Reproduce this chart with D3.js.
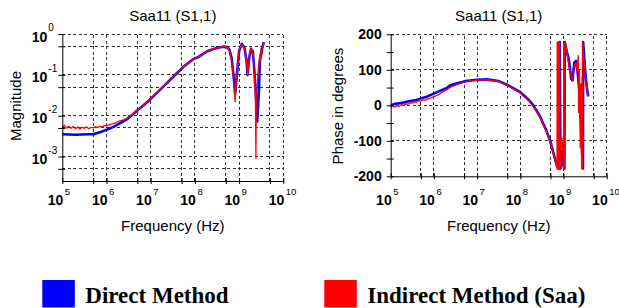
<!DOCTYPE html>
<html>
<head>
<meta charset="utf-8">
<script src="https://cdn.jsdelivr.net/npm/d3@7"></script>
<style>
  body { margin: 0; background: #fff; }
  svg { display: block; }
  text { font-family: "Liberation Sans", Arial, sans-serif; fill: #000; }
</style>
</head>
<body>
<svg id="chart" width="619" height="308"></svg>
<script>
// ---- data ----
// magnitude, direct method (blue)
const magDirectF = [1.00e5, 2.00e5, 3.98e5, 5.01e5, 7.08e5, 1.00e6, 1.58e6, 2.88e6, 5.13e6, 9.33e6,
  1.62e7, 3.16e7, 5.50e7, 9.12e7, 1.26e8, 1.86e8, 2.63e8, 3.55e8, 4.37e8, 5.25e8,
  6.03e8, 6.76e8, 7.59e8, 8.13e8, 8.91e8, 1.00e9, 1.15e9, 1.32e9, 1.48e9, 1.55e9,
  1.70e9, 1.86e9, 2.04e9, 2.19e9, 2.40e9, 2.57e9, 2.82e9, 2.95e9, 3.24e9, 3.63e9];
const magDirect = [0.0035, 0.0034, 0.0035, 0.0035, 0.0039, 0.0045, 0.0056, 0.0081, 0.0138, 0.0240,
  0.0427, 0.0871, 0.158, 0.240, 0.282, 0.372, 0.427, 0.468, 0.490, 0.479,
  0.417, 0.257, 0.083, 0.035, 0.100, 0.380, 0.575, 0.457, 0.214, 0.100,
  0.269, 0.437, 0.380, 0.148, 0.032, 0.0072, 0.048, 0.214, 0.417, 0.631];

// magnitude, indirect method (red)
const magIndirectF = [1.00e5, 1.12e5, 1.26e5, 1.41e5, 1.58e5, 1.78e5, 2.00e5, 2.24e5, 2.51e5, 2.82e5,
  3.16e5, 3.55e5, 3.98e5, 4.47e5, 5.01e5, 5.62e5, 6.31e5, 7.08e5, 7.94e5, 8.91e5,
  1.00e6, 1.26e6, 1.58e6, 2.00e6, 2.51e6, 3.16e6, 5.13e6, 9.33e6, 1.62e7, 3.16e7,
  5.50e7, 9.12e7, 1.26e8, 1.86e8, 2.63e8, 3.55e8, 4.37e8, 5.25e8, 6.03e8, 6.76e8,
  7.59e8, 8.13e8, 8.51e8, 8.91e8, 1.00e9, 1.15e9, 1.32e9, 1.48e9, 1.55e9, 1.62e9,
  1.70e9, 1.86e9, 2.04e9, 2.19e9, 2.34e9, 2.40e9, 2.45e9, 2.57e9, 2.69e9, 2.82e9,
  2.95e9, 3.02e9, 3.16e9, 3.31e9, 3.47e9, 3.63e9];
const magIndirect = [0.0052, 0.0058, 0.0050, 0.0055, 0.0049, 0.0054, 0.0048, 0.0053, 0.0047, 0.0052,
  0.0049, 0.0053, 0.0048, 0.0052, 0.0050, 0.0054, 0.0051, 0.0055, 0.0053, 0.0057,
  0.0056, 0.0062, 0.0066, 0.0075, 0.0080, 0.0092, 0.0140, 0.0245, 0.043, 0.088,
  0.160, 0.240, 0.280, 0.370, 0.430, 0.470, 0.490, 0.480, 0.400, 0.240,
  0.070, 0.022, 0.060, 0.110, 0.400, 0.560, 0.460, 0.200, 0.095, 0.150,
  0.280, 0.440, 0.370, 0.140, 0.030, 0.0009, 0.025, 0.050, 0.120, 0.200,
  0.300, 0.220, 0.400, 0.320, 0.500, 0.600];

// phase in degrees, direct method (blue)
const phDirectF = [1.00e5, 1.26e5, 1.58e5, 2.00e5, 2.82e5, 3.98e5, 5.01e5, 7.08e5, 1.00e6, 1.41e6,
  2.00e6, 2.34e6, 3.16e6, 5.25e6, 1.00e7, 1.66e7, 3.16e7, 4.90e7, 1.00e8, 1.58e8,
  2.00e8, 2.82e8, 3.98e8, 4.90e8, 6.03e8, 6.92e8, 7.59e8, 8.13e8, 8.20e8, 8.51e8,
  8.91e8, 9.77e8, 1.05e9, 1.07e9, 1.20e9, 1.32e9, 1.51e9, 1.62e9, 1.78e9, 1.95e9,
  2.14e9, 2.34e9, 2.51e9, 2.69e9, 2.82e9, 2.85e9, 3.16e9, 3.47e9, 3.72e9];
const phDirect = [0, 4, 6, 8, 12, 15, 19, 25, 33, 41,
  49, 56, 61, 68, 72, 73, 68, 58, 37, 15,
  0, -30, -70, -100, -140, -168, -178, -178, 178, -178,
  -130, -165, -178, 178, 150, 130, 75, 70, 120, 125,
  90, 40, -40, -130, -178, 178, 100, 50, 25];

// phase in degrees, indirect method (red)
const phIndirectF = [1.00e5, 1.12e5, 1.26e5, 1.41e5, 1.58e5, 1.78e5, 2.00e5, 2.24e5, 2.51e5, 2.82e5,
  3.16e5, 3.55e5, 3.98e5, 4.47e5, 5.01e5, 5.62e5, 6.31e5, 7.08e5, 7.94e5, 8.91e5,
  1.00e6, 1.12e6, 1.26e6, 1.41e6, 1.58e6, 1.78e6, 2.00e6, 2.24e6, 2.51e6, 3.16e6,
  3.98e6, 5.01e6, 6.31e6, 1.00e7, 1.66e7, 3.16e7, 4.90e7, 1.00e8, 1.58e8, 2.00e8,
  2.82e8, 3.98e8, 4.90e8, 6.03e8, 6.92e8, 7.08e8, 7.16e8, 7.24e8, 7.33e8, 7.41e8,
  7.50e8, 7.59e8, 7.76e8, 7.94e8, 8.13e8, 8.32e8, 8.71e8, 9.12e8, 9.55e8, 1.00e9,
  1.02e9, 1.05e9, 1.07e9, 1.20e9, 1.32e9, 1.51e9, 1.62e9, 1.78e9, 1.95e9, 2.09e9,
  2.19e9, 2.24e9, 2.34e9, 2.45e9, 2.51e9, 2.63e9, 2.69e9, 2.75e9, 2.79e9, 2.95e9,
  3.24e9, 3.47e9, 3.72e9];
const phIndirect = [-6, -2, -5, 0, -3, 2, 0, 4, 3, 7,
  6, 10, 9, 13, 12, 15, 14, 18, 19, 22,
  24, 27, 29, 33, 37, 41, 44, 49, 52, 57,
  61, 65, 68, 71, 72, 67, 57, 35, 12, -3,
  -33, -73, -103, -143, -172, -178, 178, -178, 178, -178,
  178, -178, 178, -178, 178, -178, -100, -90, -120, -178,
  178, -178, 178, 150, 115, 80, 70, 115, 120, 95,
  140, -20, 100, -120, 60, -178, 80, -178, 178, 130,
  80, 45, 25];

// axes ticks
const freqDecades = [1e5, 1e6, 1e7, 1e8, 1e9, 1e10];
const freqMinor = [5e5, 5e6, 5e7, 5e8, 5e9];
const magDecades = [1e-3, 1e-2, 1e-1, 1];
const magMinor = [5e-4, 5e-3, 5e-2, 5e-1];
const phTicks = [-200, -100, 0, 100, 200];
const phMinor = [-150, -50, 50, 150];

const titles = ["Saa11 (S1,1)", "Saa11 (S1,1)"];
const yTitles = ["Magnitude", "Phase in degrees"];
const xTitle = "Frequency (Hz)";
const legendLabels = ["Direct Method", "Indirect Method (Saa)"];
const colors = ["#0000ff", "#ff0000"];

const svg = d3.select("#chart");

// ---- scales ----
const xMag = d3.scaleLog().domain([1e5, 1e10]).range([62.3, 283.3]);
const yMag = d3.scaleLog().domain([Math.pow(10, -3.6), 1]).range([181, 34]);
const xPh = d3.scaleLog().domain([1e5, 1e10]).range([390.7, 606.7]);
const yPh = d3.scaleLinear().domain([-200, 200]).range([176.3, 34.3]);

function dashed(g, lines) {
  g.selectAll("line.grid").data(lines).join("line")
    .attr("class", "grid")
    .attr("x1", d => d[0]).attr("y1", d => d[1])
    .attr("x2", d => d[2]).attr("y2", d => d[3])
    .attr("stroke", "#333")
    .attr("stroke-width", 1)
    .attr("stroke-dasharray", "3,2.5")
    .attr("shape-rendering", "crispEdges");
}

function drawPanel(x, y, hGrid, yMajor, yMin, yLabel, title, yTitle, yTitleX, series) {
  const g = svg.append("g");
  const [xl, xr] = x.range();
  const [yb, yt] = y.range();

  // grid
  const vLines = freqDecades.concat(freqMinor).filter(d => d > 1e5).map(d => [x(d), yb, x(d), yt]);
  const hLines = hGrid.map(d => [xl, y(d), xr, y(d)]);
  dashed(g.append("g"), vLines.concat(hLines));

  // curves
  series.forEach(s => {
    const line = d3.line().x(d => x(d[0])).y(d => y(d[1]));
    g.append("path")
      .datum(d3.zip(s.f, s.v))
      .attr("fill", "none")
      .attr("stroke", s.color)
      .attr("stroke-width", s.w)
      .attr("stroke-linejoin", "round")
      .attr("d", line);
  });

  // axes
  const ax = g.append("g").attr("transform", `translate(0,${yb})`)
    .call(d3.axisBottom(x).tickValues(freqDecades.concat(freqMinor)).tickFormat("").tickSizeInner(3).tickSizeOuter(0));
  ax.selectAll(".tick line").attr("y1", -3);
  const ay = g.append("g").attr("transform", `translate(${xl},0)`)
    .call(d3.axisLeft(y).tickValues(yMajor.concat(yMin)).tickFormat("").tickSizeInner(4).tickSizeOuter(0));
  ay.selectAll(".tick line").attr("x1", 3);
  g.selectAll(".domain").attr("stroke", "#000");

  // x tick labels 10^n
  const xl10 = g.append("g");
  xl10.selectAll("text.b").data(freqDecades).join("text")
    .attr("class", "b")
    .attr("x", d => x(d) + 1).attr("y", 205)
    .attr("text-anchor", "end")
    .style("font-size", "14px").style("font-weight", "bold")
    .text("10");
  xl10.selectAll("text.e").data(freqDecades).join("text")
    .attr("class", "e")
    .attr("x", d => x(d) + 2.5).attr("y", 195)
    .style("font-size", "9.5px")
    .text(d => Math.round(Math.log10(d)));

  yLabel(g, y, xl, yMajor);

  g.append("text")
    .attr("x", (xl + xr) / 2).attr("y", 21)
    .attr("text-anchor", "middle")
    .style("font-size", "15px")
    .text(title);
  g.append("text")
    .attr("x", (xl + xr) / 2).attr("y", 231)
    .attr("text-anchor", "middle")
    .style("font-size", "15px")
    .text(xTitle);
  g.append("text")
    .attr("transform", `translate(${yTitleX},106) rotate(-90)`)
    .attr("text-anchor", "middle")
    .style("font-size", "15px")
    .text(yTitle);
}

function magLabels(g, y, xl, ticks) {
  g.selectAll("text.yb").data(ticks).join("text")
    .attr("class", "yb")
    .attr("x", xl - 15).attr("y", d => y(d) + 7.5)
    .attr("text-anchor", "end")
    .style("font-size", "14px").style("font-weight", "bold")
    .text("10");
  g.selectAll("text.ye").data(ticks).join("text")
    .attr("class", "ye")
    .attr("x", xl - 14).attr("y", d => y(d) - 3)
    .style("font-size", "10px")
    .text(d => Math.round(Math.log10(d)));
}

function phLabels(g, y, xl, ticks) {
  g.selectAll("text.yb").data(ticks).join("text")
    .attr("class", "yb")
    .attr("x", xl - 9).attr("y", d => y(d) + 5)
    .attr("text-anchor", "end")
    .style("font-size", "14px").style("font-weight", "bold")
    .text(d => d);
}

drawPanel(xMag, yMag, magDecades.concat(magMinor), magDecades, magMinor, magLabels,
  titles[0], yTitles[0], 20.5,
  [{ f: magDirectF, v: magDirect, color: colors[0], w: 2.6 },
   { f: magIndirectF, v: magIndirect, color: colors[1], w: 1.3 }]);

drawPanel(xPh, yPh, phTicks.filter(d => d > -200), phTicks, phMinor, phLabels,
  titles[1], yTitles[1], 342.5,
  [{ f: phDirectF, v: phDirect, color: colors[0], w: 2.6 },
   { f: phIndirectF, v: phIndirect, color: colors[1], w: 1.3 }]);

// legend
const legX = [42.3, 324.3];
const leg = svg.append("g").selectAll("g").data(legendLabels).join("g")
  .attr("transform", (d, i) => `translate(${legX[i]},280)`);
leg.append("rect")
  .attr("width", 32.5).attr("height", 27.5)
  .attr("fill", (d, i) => colors[i]);
leg.append("text")
  .attr("x", 43).attr("y", 22.5)
  .style("font-family", "'Liberation Serif', 'Times New Roman', serif")
  .style("font-weight", "bold")
  .style("font-size", "23px")
  .text(d => d);
</script>
</body>
</html>
